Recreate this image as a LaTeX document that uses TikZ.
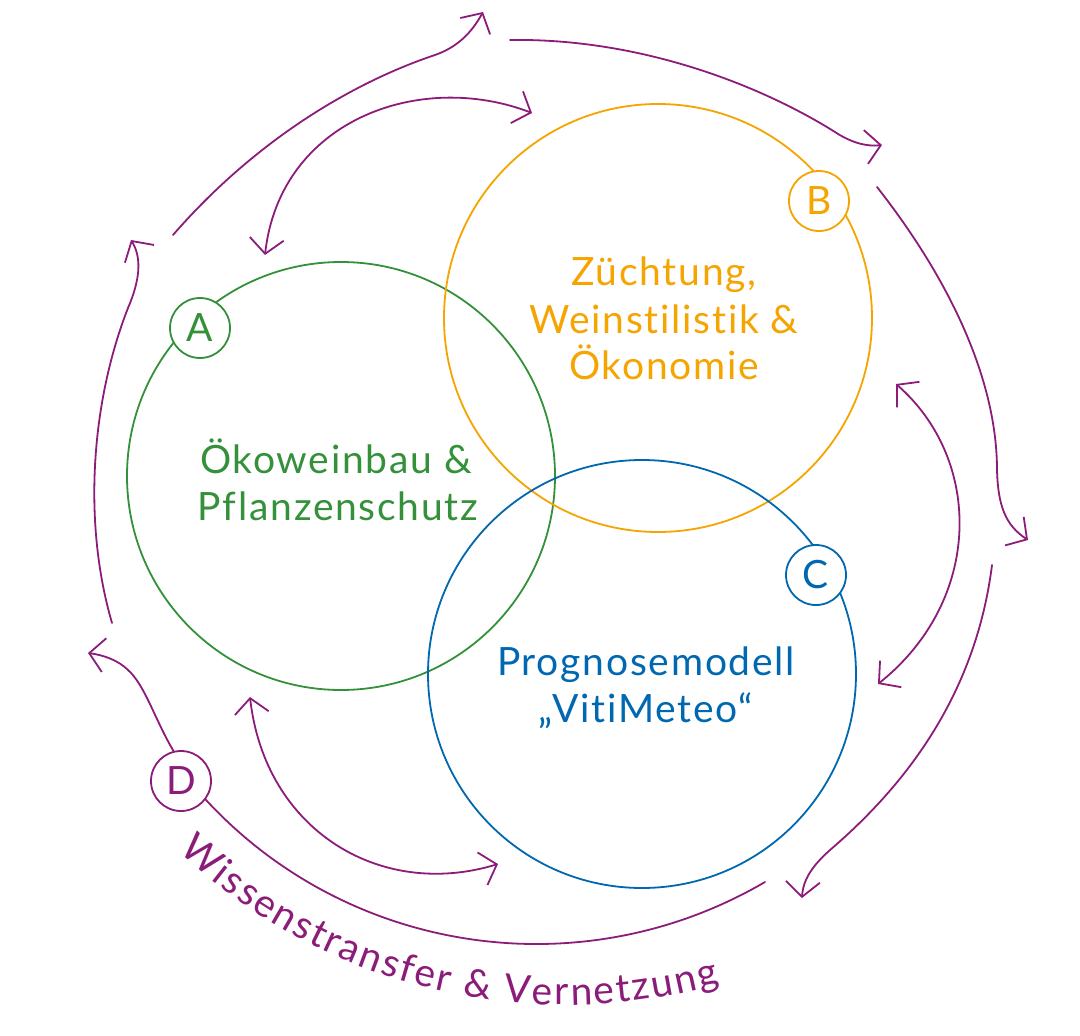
\documentclass[tikz,border=0pt]{standalone}
\usepackage{fontspec}
\setmainfont{Lato}[Ligatures=NoCommon, LetterSpace=4.5]
\usetikzlibrary{arrows.meta,decorations.text}
\definecolor{purp}{RGB}{140,28,122}
\definecolor{grn}{RGB}{52,145,58}
\definecolor{yel}{RGB}{245,164,0}
\definecolor{blu}{RGB}{0,104,176}
\newcommand\trk[1]{#1\kern2.2pt}
\tikzset{
  ring/.style={draw=purp, line width=1.8pt, line cap=round},
  tipend/.style={-{Straight Barb[length=15pt,width=34pt]}},
  tipboth/.style={{Straight Barb[length=15pt,width=34pt]}-{Straight Barb[length=15pt,width=34pt]}},
  big/.style={circle, minimum size=428pt, inner sep=0pt, line width=1.8pt},
  lab/.style={circle, fill=white, minimum size=60pt, inner sep=0pt, line width=1.8pt, font=\fontsize{39}{39}\selectfont},
  txt/.style={anchor=base, inner sep=0pt, font=\fontsize{39}{47}\selectfont},
}
\begin{document}
\begin{tikzpicture}[x=1pt,y=-1pt]
\useasboundingbox (0,0) rectangle (1080,1036);
\fill[white] (0,0) rectangle (1080,1036);

% big circles
\node[big, draw=grn] (A) at (341,476) {};
\node[big, draw=yel] (B) at (658,318) {};
\node[big, draw=blu] (C) at (642,674) {};

% labels
\node[lab, draw=grn, text=grn] (LA) at (200,328) {A};
\node[lab, draw=yel, text=yel] (LB) at (819,201) {B};
\node[lab, draw=blu, text=blu] (LC) at (816,575) {C};
\node[lab, draw=purp, text=purp] (LD) at (181,781) {D};

% texts
\node[txt, text=grn] (ta1) at (336,473) {Ökoweinbau \&};
\node[txt, text=grn] (ta2) at (338,520) {Pflanzenschutz};
\node[txt, text=yel] (tb1) at (664,285) {Züchtung,};
\node[txt, text=yel] (tb2) at (664,333) {Weinstilistik \&};
\node[txt, text=yel] (tb3) at (664,379) {Ökonomie};
\node[txt, text=blu] (tc1) at (646,675) {Prognosemodell};
\node[txt, text=blu] (tc2) at (646,722) {„VitiMeteo“};

% free ends of the outer ring
\coordinate (l1s) at (112,623);
\coordinate (l1e) at (131,240);
\coordinate (l2s) at (173,235);
\coordinate (l2e) at (483,12);
\coordinate (ts) at (510,40);
\coordinate (te) at (882,145);
\coordinate (r1s) at (877,187);
\coordinate (r1e) at (1028,540);
\coordinate (r2s) at (992,565);
\coordinate (r2e) at (802,898);
\coordinate (bs) at (765,882);
\coordinate (de) at (88,653);
% double arrows
\coordinate (ab1) at (265,255);
\coordinate (ab2) at (532,113);
\coordinate (bc1) at (896,384);
\coordinate (bc2) at (878,684);
\coordinate (ac1) at (250,697);
\coordinate (ac2) at (498,864);

% outer ring
\draw[ring,tipend] (l1s) .. controls (82,520) and (92,400) .. (128,308) .. controls (140,280) and (142,258) .. (l1e);
\draw[ring,tipend] (l2s) .. controls (260,135) and (360,80) .. (435,55) .. controls (458,47) and (472,32) .. (l2e);
\draw[ring,tipend] (ts) .. controls (640,38) and (760,85) .. (835,132) .. controls (850,142) and (866,147) .. (te);
\draw[ring,tipend] (r1s) .. controls (950,280) and (997,380) .. (997,470) .. controls (998,505) and (1005,525) .. (r1e);
\draw[ring,tipend] (r2s) .. controls (975,700) and (900,790) .. (830,850) .. controls (812,866) and (803,880) .. (r2e);
\draw[ring] (LD.-37) .. controls (349,955) and (582,989) .. (bs);
\draw[ring,tipend] (LD.104) .. controls (155,720) and (145,685) .. (128,670) .. controls (118,660) and (103,655) .. (de);

% double arrows
\draw[ring,tipboth] (ab1) .. controls (280,120) and (420,70) .. (ab2);
\draw[ring,tipboth] (bc1) .. controls (983,460) and (983,600) .. (bc2);
\draw[ring,tipboth] (ac1) .. controls (265,830) and (380,900) .. (ac2);

% curved label
\path[decorate, decoration={text along path, text align=center,
  text color=purp, text format delimiters={|}{|},
  text={|\fontsize{39}{39}\selectfont|{\trk W}{\trk i}{\trk s}{\trk s}{\trk e}{\trk n}{\trk s}{\trk t}{\trk r}{\trk a}{\trk n}{\trk s}{\trk f}{\trk e}{\trk r} {\trk\&} {\trk V}{\trk e}{\trk r}{\trk n}{\trk e}{\trk t}{\trk z}{\trk u}{\trk n}{g}}}]
  plot[smooth, variable=\a, domain=211.3:301.3, samples=46] ({566+566*cos(\a)},{439-566*sin(\a)});
\end{tikzpicture}
\end{document}
